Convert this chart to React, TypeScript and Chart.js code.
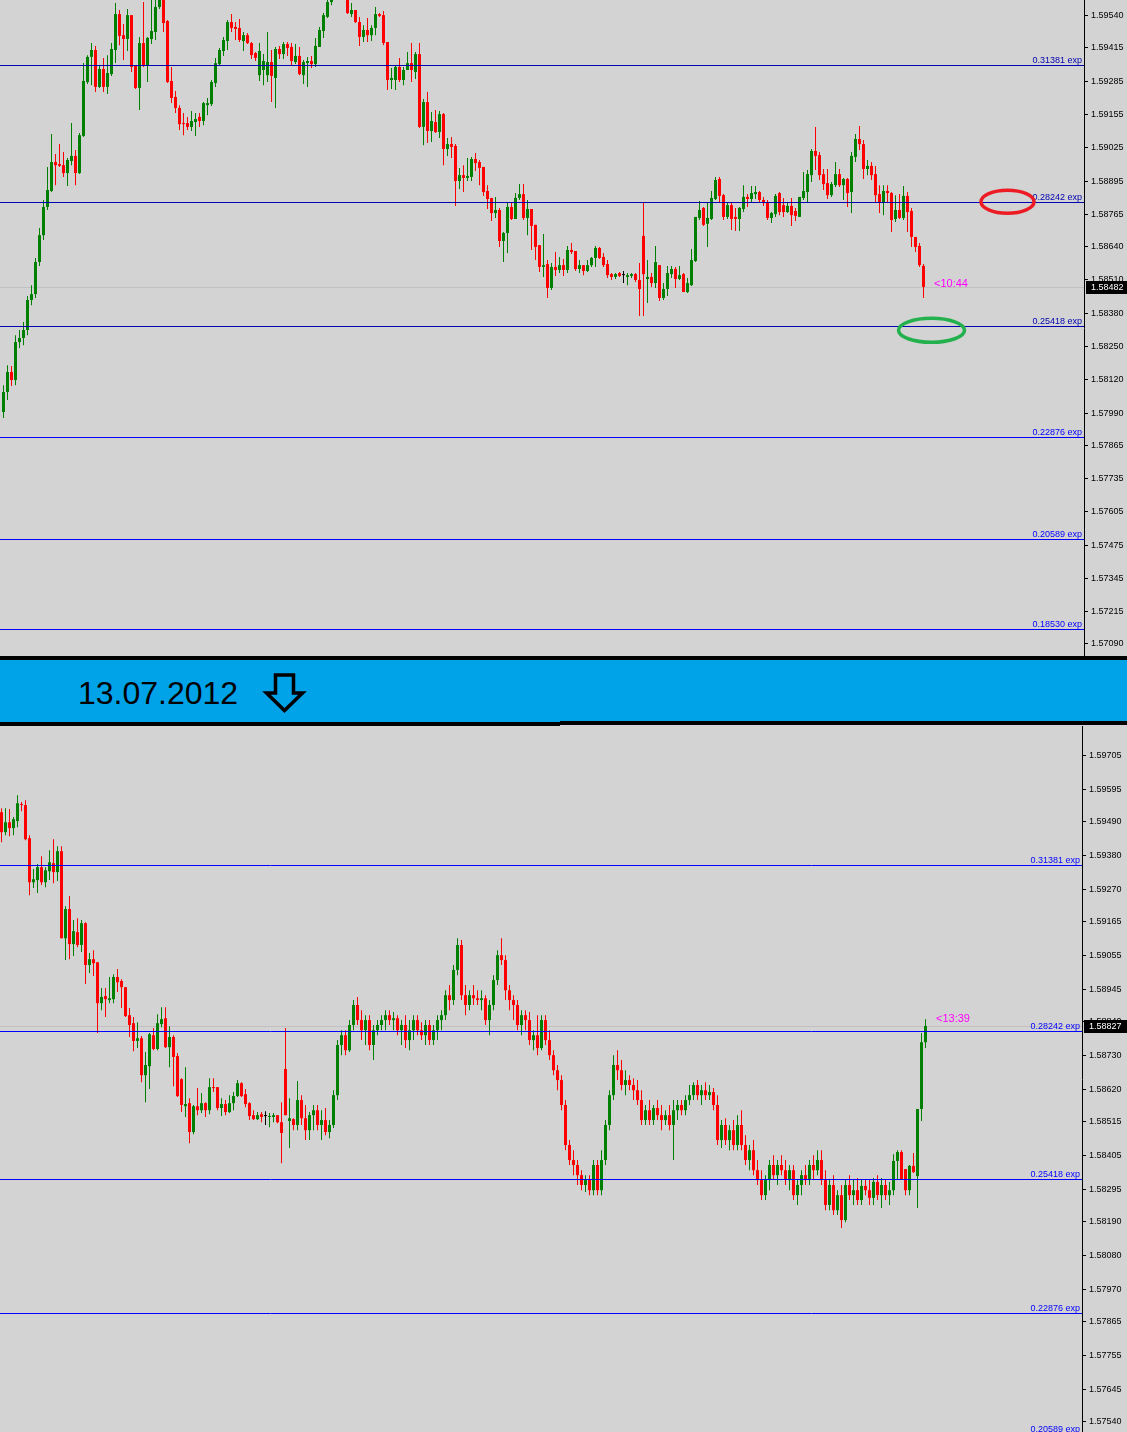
import React, { useEffect, useRef } from "react";
import { Chart, registerables } from "chart.js";

Chart.register(...registerables);

// ---------------- DATA (prices) ----------------
// Upper chart (before 13.07.2012)
const topOpen = [1.57994,1.58072,1.58150,1.58119,1.58267,1.58283,1.58314,1.58431,1.58454,1.58579,1.58684,1.58794,1.58856,1.58969,1.58961,1.58957,1.58926,1.58973,1.58993,1.58926,1.59071,1.59281,1.59379,1.59406,1.59262,1.59332,1.59262,1.59312,1.59406,1.59546,1.59464,1.59449,1.59542,1.59347,1.59258,1.59433,1.59344,1.59449,1.59476,1.59574,1.59613,1.59519,1.59285,1.59223,1.59180,1.59121,1.59121,1.59106,1.59125,1.59145,1.59129,1.59191,1.59195,1.59277,1.59351,1.59402,1.59441,1.59515,1.59496,1.59492,1.59441,1.59464,1.59433,1.59394,1.59308,1.59328,1.59308,1.59359,1.59297,1.59410,1.59390,1.59429,1.59418,1.59359,1.59383,1.59308,1.59355,1.59363,1.59351,1.59418,1.59480,1.59535,1.59593,1.59640,1.59671,1.59648,1.59617,1.59546,1.59562,1.59515,1.59457,1.59484,1.59464,1.59492,1.59546,1.59542,1.59437,1.59289,1.59289,1.59340,1.59289,1.59328,1.59355,1.59320,1.59390,1.59106,1.59203,1.59090,1.59125,1.59086,1.59156,1.59020,1.59039,1.59032,1.58895,1.58918,1.58907,1.58911,1.58981,1.58969,1.58950,1.58856,1.58829,1.58770,1.58782,1.58661,1.58692,1.58794,1.58747,1.58829,1.58844,1.58751,1.58786,1.58724,1.58645,1.58560,1.58571,1.58478,1.58560,1.58548,1.58567,1.58548,1.58626,1.58622,1.58552,1.58567,1.58544,1.58567,1.58595,1.58634,1.58599,1.58571,1.58532,1.58521,1.58536,1.58528,1.58521,1.58525,1.58532,1.58509,1.58681,1.58513,1.58521,1.58497,1.58567,1.58439,1.58474,1.58532,1.58552,1.58513,1.58532,1.58462,1.58489,1.58583,1.58751,1.58790,1.58728,1.58747,1.58825,1.58903,1.58840,1.58755,1.58801,1.58755,1.58747,1.58786,1.58833,1.58825,1.58844,1.58852,1.58821,1.58813,1.58751,1.58766,1.58848,1.58801,1.58774,1.58798,1.58778,1.58755,1.58829,1.58852,1.58918,1.59012,1.58996,1.58922,1.58887,1.58840,1.58879,1.58922,1.58879,1.58903,1.58852,1.58989,1.59059,1.59039,1.58942,1.58954,1.58922,1.58844,1.58813,1.58856,1.58848,1.58747,1.58782,1.58751,1.58837,1.58778,1.58677,1.58642,1.58564];
const topHigh = [1.58099,1.58177,1.58174,1.58294,1.58314,1.58345,1.58447,1.58489,1.58595,1.58712,1.58821,1.58950,1.59078,1.59000,1.59039,1.59008,1.58985,1.59121,1.59016,1.59082,1.59355,1.59386,1.59433,1.59422,1.59347,1.59375,1.59386,1.59433,1.59589,1.59562,1.59507,1.59566,1.59542,1.59347,1.59457,1.59593,1.59457,1.59601,1.59609,1.59632,1.59624,1.59523,1.59340,1.59246,1.59191,1.59160,1.59145,1.59168,1.59160,1.59160,1.59203,1.59219,1.59289,1.59375,1.59414,1.59457,1.59523,1.59546,1.59515,1.59527,1.59476,1.59472,1.59437,1.59398,1.59433,1.59390,1.59476,1.59406,1.59418,1.59422,1.59437,1.59437,1.59433,1.59429,1.59418,1.59367,1.59379,1.59383,1.59453,1.59496,1.59550,1.59613,1.59660,1.59699,1.59699,1.59679,1.59632,1.59589,1.59562,1.59535,1.59503,1.59531,1.59503,1.59574,1.59550,1.59558,1.59437,1.59336,1.59347,1.59375,1.59340,1.59398,1.59433,1.59398,1.59433,1.59215,1.59242,1.59164,1.59172,1.59168,1.59160,1.59063,1.59067,1.59039,1.58946,1.58957,1.58985,1.58989,1.59004,1.58977,1.58950,1.58879,1.58829,1.58833,1.58790,1.58696,1.58809,1.58813,1.58848,1.58883,1.58883,1.58821,1.58786,1.58724,1.58645,1.58688,1.58587,1.58575,1.58618,1.58599,1.58591,1.58642,1.58653,1.58622,1.58587,1.58567,1.58587,1.58599,1.58642,1.58638,1.58614,1.58587,1.58536,1.58536,1.58540,1.58544,1.58536,1.58536,1.58536,1.58575,1.58813,1.58587,1.58536,1.58642,1.58567,1.58497,1.58564,1.58564,1.58560,1.58564,1.58536,1.58517,1.58630,1.58755,1.58817,1.58794,1.58809,1.58856,1.58911,1.58911,1.58844,1.58809,1.58809,1.58790,1.58794,1.58879,1.58844,1.58876,1.58876,1.58856,1.58833,1.58821,1.58774,1.58844,1.58852,1.58829,1.58809,1.58829,1.58790,1.58833,1.58930,1.58938,1.59020,1.59106,1.59008,1.58942,1.58942,1.58891,1.58969,1.58942,1.58907,1.58907,1.59008,1.59078,1.59110,1.59055,1.58977,1.58969,1.58954,1.58879,1.58879,1.58879,1.58852,1.58840,1.58844,1.58876,1.58852,1.58790,1.58677,1.58653,1.58571];
const topLow = [1.57971,1.58041,1.58096,1.58099,1.58244,1.58255,1.58294,1.58411,1.58439,1.58564,1.58665,1.58782,1.58852,1.58879,1.58950,1.58911,1.58876,1.58957,1.58879,1.58922,1.59067,1.59273,1.59269,1.59242,1.59258,1.59242,1.59234,1.59305,1.59355,1.59425,1.59367,1.59402,1.59320,1.59254,1.59172,1.59340,1.59281,1.59429,1.59445,1.59566,1.59476,1.59277,1.59199,1.59160,1.59094,1.59074,1.59094,1.59090,1.59071,1.59106,1.59113,1.59152,1.59188,1.59262,1.59347,1.59383,1.59406,1.59476,1.59445,1.59437,1.59402,1.59429,1.59371,1.59363,1.59285,1.59269,1.59281,1.59203,1.59180,1.59371,1.59371,1.59383,1.59347,1.59351,1.59308,1.59273,1.59262,1.59336,1.59340,1.59418,1.59453,1.59531,1.59581,1.59621,1.59621,1.59601,1.59546,1.59535,1.59511,1.59422,1.59437,1.59437,1.59441,1.59464,1.59535,1.59425,1.59250,1.59254,1.59250,1.59281,1.59269,1.59328,1.59281,1.59293,1.59102,1.59035,1.59043,1.59047,1.59082,1.59063,1.58957,1.58993,1.58985,1.58798,1.58864,1.58852,1.58895,1.58895,1.58934,1.58879,1.58837,1.58786,1.58739,1.58751,1.58638,1.58579,1.58614,1.58743,1.58747,1.58821,1.58743,1.58684,1.58626,1.58587,1.58540,1.58521,1.58439,1.58470,1.58525,1.58536,1.58525,1.58536,1.58610,1.58544,1.58536,1.58528,1.58540,1.58560,1.58560,1.58591,1.58560,1.58517,1.58509,1.58513,1.58521,1.58497,1.58489,1.58517,1.58501,1.58369,1.58369,1.58419,1.58482,1.58478,1.58427,1.58431,1.58447,1.58517,1.58478,1.58509,1.58462,1.58458,1.58486,1.58579,1.58743,1.58720,1.58638,1.58743,1.58821,1.58813,1.58743,1.58747,1.58704,1.58700,1.58700,1.58774,1.58794,1.58809,1.58825,1.58813,1.58798,1.58743,1.58731,1.58755,1.58762,1.58755,1.58770,1.58720,1.58739,1.58755,1.58821,1.58813,1.58891,1.58938,1.58899,1.58860,1.58825,1.58833,1.58872,1.58872,1.58821,1.58794,1.58770,1.58969,1.59016,1.58903,1.58918,1.58899,1.58813,1.58770,1.58762,1.58809,1.58696,1.58735,1.58747,1.58743,1.58696,1.58638,1.58618,1.58560,1.58439];
const topClose = [1.58072,1.58150,1.58119,1.58267,1.58283,1.58314,1.58431,1.58454,1.58579,1.58684,1.58794,1.58860,1.58969,1.58957,1.58954,1.58926,1.58977,1.58993,1.58926,1.59074,1.59285,1.59379,1.59406,1.59262,1.59332,1.59262,1.59316,1.59410,1.59546,1.59461,1.59449,1.59542,1.59340,1.59258,1.59433,1.59344,1.59453,1.59480,1.59574,1.59613,1.59511,1.59281,1.59219,1.59180,1.59117,1.59117,1.59106,1.59129,1.59137,1.59129,1.59199,1.59199,1.59281,1.59355,1.59406,1.59445,1.59515,1.59492,1.59488,1.59445,1.59464,1.59433,1.59386,1.59375,1.59402,1.59363,1.59359,1.59305,1.59410,1.59390,1.59429,1.59414,1.59363,1.59383,1.59312,1.59359,1.59363,1.59351,1.59422,1.59484,1.59542,1.59593,1.59640,1.59671,1.59648,1.59617,1.59550,1.59562,1.59515,1.59457,1.59484,1.59464,1.59492,1.59546,1.59539,1.59433,1.59289,1.59297,1.59340,1.59289,1.59328,1.59355,1.59328,1.59390,1.59106,1.59203,1.59090,1.59129,1.59086,1.59156,1.59020,1.59039,1.59028,1.58895,1.58918,1.58907,1.58915,1.58981,1.58965,1.58946,1.58852,1.58825,1.58770,1.58782,1.58661,1.58692,1.58794,1.58747,1.58829,1.58844,1.58751,1.58786,1.58720,1.58638,1.58560,1.58567,1.58478,1.58560,1.58548,1.58567,1.58548,1.58626,1.58618,1.58552,1.58567,1.58544,1.58567,1.58595,1.58634,1.58595,1.58567,1.58528,1.58521,1.58532,1.58525,1.58528,1.58528,1.58532,1.58509,1.58474,1.58532,1.58521,1.58497,1.58579,1.58439,1.58474,1.58536,1.58552,1.58513,1.58528,1.58462,1.58497,1.58587,1.58755,1.58782,1.58724,1.58751,1.58829,1.58899,1.58837,1.58755,1.58801,1.58747,1.58747,1.58790,1.58833,1.58825,1.58848,1.58852,1.58821,1.58809,1.58751,1.58770,1.58837,1.58774,1.58774,1.58798,1.58762,1.58759,1.58833,1.58856,1.58922,1.59012,1.58993,1.58918,1.58883,1.58840,1.58883,1.58922,1.58879,1.58903,1.58848,1.58993,1.59059,1.59039,1.58942,1.58954,1.58918,1.58840,1.58813,1.58856,1.58848,1.58743,1.58782,1.58751,1.58837,1.58774,1.58677,1.58638,1.58567,1.58482];

// Lower chart (13.07.2012)
const bottomOpen = [1.59522,1.59457,1.59489,1.59470,1.59493,1.59548,1.59545,1.59437,1.59294,1.59301,1.59343,1.59294,1.59330,1.59356,1.59327,1.59395,1.59112,1.59207,1.59093,1.59132,1.59090,1.59161,1.59025,1.59044,1.59034,1.58901,1.58924,1.58911,1.58914,1.58986,1.58973,1.58953,1.58862,1.58836,1.58778,1.58787,1.58667,1.58696,1.58797,1.58752,1.58833,1.58852,1.58758,1.58791,1.58729,1.58654,1.58566,1.58576,1.58482,1.58566,1.58553,1.58576,1.58553,1.58628,1.58628,1.58560,1.58573,1.58547,1.58576,1.58599,1.58641,1.58605,1.58576,1.58537,1.58524,1.58540,1.58534,1.58531,1.58531,1.58537,1.58514,1.58687,1.58518,1.58524,1.58505,1.58586,1.58527,1.58488,1.58537,1.58553,1.58505,1.58521,1.58482,1.58505,1.58602,1.58765,1.58797,1.58748,1.58830,1.58895,1.58846,1.58813,1.58846,1.58765,1.58813,1.58830,1.58846,1.58862,1.58846,1.58852,1.58813,1.58830,1.58781,1.58813,1.58846,1.58813,1.58797,1.58830,1.58781,1.58813,1.58846,1.58862,1.58927,1.58911,1.59009,1.59090,1.58927,1.58895,1.58927,1.58917,1.58911,1.58917,1.58846,1.58895,1.58976,1.59057,1.59041,1.58943,1.58911,1.58895,1.58830,1.58862,1.58846,1.58781,1.58797,1.58755,1.58846,1.58781,1.58732,1.58683,1.58651,1.58570,1.58440,1.58391,1.58375,1.58342,1.58310,1.58326,1.58293,1.58375,1.58293,1.58391,1.58505,1.58602,1.58700,1.58683,1.58635,1.58651,1.58635,1.58618,1.58586,1.58521,1.58553,1.58521,1.58560,1.58537,1.58521,1.58537,1.58505,1.58553,1.58570,1.58553,1.58586,1.58602,1.58635,1.58602,1.58618,1.58602,1.58612,1.58570,1.58456,1.58505,1.58456,1.58488,1.58440,1.58505,1.58440,1.58391,1.58423,1.58358,1.58326,1.58277,1.58326,1.58375,1.58342,1.58375,1.58358,1.58326,1.58358,1.58277,1.58310,1.58342,1.58326,1.58375,1.58358,1.58391,1.58326,1.58245,1.58310,1.58228,1.58277,1.58196,1.58310,1.58277,1.58293,1.58261,1.58307,1.58293,1.58268,1.58320,1.58277,1.58310,1.58277,1.58293,1.58388,1.58417,1.58362,1.58293,1.58372,1.58339,1.58557,1.58774];
const bottomHigh = [1.59535,1.59535,1.59532,1.59506,1.59577,1.59555,1.59561,1.59447,1.59337,1.59353,1.59379,1.59343,1.59398,1.59434,1.59411,1.59411,1.59216,1.59249,1.59171,1.59177,1.59171,1.59164,1.59064,1.59073,1.59034,1.58950,1.58950,1.58986,1.58995,1.59012,1.58979,1.58953,1.58885,1.58856,1.58839,1.58794,1.58742,1.58804,1.58820,1.58865,1.58888,1.58888,1.58826,1.58797,1.58739,1.58657,1.58693,1.58592,1.58570,1.58625,1.58609,1.58579,1.58657,1.58657,1.58628,1.58592,1.58586,1.58602,1.58612,1.58651,1.58644,1.58622,1.58579,1.58553,1.58547,1.58547,1.58550,1.58544,1.58544,1.58537,1.58579,1.58820,1.58592,1.58527,1.58648,1.58602,1.58570,1.58547,1.58570,1.58570,1.58553,1.58560,1.58521,1.58618,1.58781,1.58813,1.58813,1.58846,1.58911,1.58921,1.58878,1.58862,1.58862,1.58830,1.58846,1.58862,1.58878,1.58878,1.58872,1.58862,1.58846,1.58862,1.58846,1.58862,1.58862,1.58839,1.58846,1.58846,1.58830,1.58862,1.58878,1.58943,1.58960,1.59025,1.59112,1.59106,1.58960,1.58943,1.58960,1.58943,1.58943,1.58927,1.58911,1.58992,1.59073,1.59112,1.59057,1.58960,1.58927,1.58911,1.58878,1.58878,1.58872,1.58813,1.58862,1.58862,1.58862,1.58813,1.58748,1.58700,1.58667,1.58586,1.58456,1.58423,1.58391,1.58358,1.58342,1.58342,1.58391,1.58391,1.58423,1.58521,1.58618,1.58732,1.58748,1.58716,1.58683,1.58667,1.58657,1.58651,1.58618,1.58570,1.58586,1.58570,1.58586,1.58570,1.58553,1.58570,1.58586,1.58586,1.58586,1.58602,1.58635,1.58644,1.58651,1.58635,1.58644,1.58635,1.58625,1.58602,1.58521,1.58527,1.58505,1.58521,1.58537,1.58553,1.58472,1.58440,1.58456,1.58391,1.58358,1.58342,1.58391,1.58407,1.58391,1.58407,1.58391,1.58375,1.58375,1.58326,1.58358,1.58375,1.58391,1.58407,1.58423,1.58423,1.58358,1.58326,1.58342,1.58293,1.58310,1.58326,1.58342,1.58326,1.58333,1.58326,1.58326,1.58326,1.58333,1.58342,1.58333,1.58326,1.58320,1.58410,1.58423,1.58423,1.58362,1.58375,1.58414,1.58557,1.58804,1.58849];
const bottomLow = [1.59424,1.59447,1.59444,1.59447,1.59473,1.59525,1.59431,1.59252,1.59275,1.59259,1.59285,1.59278,1.59301,1.59291,1.59298,1.59112,1.59041,1.59044,1.59054,1.59083,1.59067,1.58963,1.58999,1.58989,1.58804,1.58878,1.58856,1.58901,1.58901,1.58937,1.58885,1.58856,1.58791,1.58745,1.58755,1.58644,1.58579,1.58622,1.58748,1.58748,1.58823,1.58755,1.58693,1.58631,1.58596,1.58547,1.58531,1.58446,1.58475,1.58537,1.58544,1.58531,1.58540,1.58612,1.58553,1.58534,1.58537,1.58544,1.58553,1.58596,1.58596,1.58563,1.58521,1.58521,1.58521,1.58514,1.58505,1.58498,1.58514,1.58511,1.58381,1.58537,1.58430,1.58488,1.58488,1.58505,1.58456,1.58456,1.58488,1.58488,1.58456,1.58472,1.58462,1.58495,1.58586,1.58732,1.58732,1.58742,1.58813,1.58830,1.58781,1.58765,1.58748,1.58716,1.58797,1.58813,1.58813,1.58830,1.58813,1.58797,1.58765,1.58755,1.58748,1.58781,1.58797,1.58781,1.58765,1.58765,1.58765,1.58781,1.58813,1.58846,1.58878,1.58895,1.58992,1.58911,1.58862,1.58878,1.58895,1.58895,1.58878,1.58830,1.58797,1.58878,1.58960,1.59025,1.58911,1.58878,1.58846,1.58813,1.58797,1.58813,1.58765,1.58748,1.58732,1.58748,1.58765,1.58716,1.58667,1.58618,1.58553,1.58423,1.58375,1.58342,1.58310,1.58293,1.58287,1.58277,1.58277,1.58277,1.58277,1.58375,1.58488,1.58586,1.58651,1.58618,1.58602,1.58618,1.58586,1.58570,1.58505,1.58505,1.58505,1.58505,1.58521,1.58488,1.58505,1.58488,1.58391,1.58521,1.58537,1.58537,1.58570,1.58586,1.58586,1.58570,1.58586,1.58586,1.58553,1.58440,1.58430,1.58440,1.58423,1.58423,1.58423,1.58423,1.58375,1.58358,1.58342,1.58310,1.58261,1.58261,1.58293,1.58326,1.58310,1.58342,1.58310,1.58293,1.58261,1.58245,1.58277,1.58310,1.58310,1.58326,1.58342,1.58310,1.58228,1.58228,1.58212,1.58212,1.58170,1.58189,1.58261,1.58245,1.58245,1.58245,1.58277,1.58245,1.58245,1.58261,1.58235,1.58261,1.58245,1.58277,1.58326,1.58326,1.58277,1.58277,1.58349,1.58235,1.58518,1.58755];
const bottomClose = [1.59457,1.59489,1.59470,1.59499,1.59551,1.59545,1.59434,1.59294,1.59304,1.59343,1.59294,1.59333,1.59359,1.59327,1.59395,1.59112,1.59207,1.59093,1.59135,1.59090,1.59161,1.59025,1.59044,1.59031,1.58901,1.58921,1.58914,1.58917,1.58986,1.58969,1.58953,1.58859,1.58830,1.58778,1.58787,1.58667,1.58700,1.58800,1.58752,1.58836,1.58849,1.58758,1.58791,1.58726,1.58599,1.58570,1.58573,1.58482,1.58566,1.58553,1.58576,1.58553,1.58628,1.58625,1.58560,1.58573,1.58547,1.58576,1.58599,1.58641,1.58599,1.58573,1.58534,1.58524,1.58537,1.58531,1.58534,1.58534,1.58537,1.58514,1.58479,1.58537,1.58527,1.58505,1.58586,1.58527,1.58488,1.58537,1.58553,1.58505,1.58521,1.58482,1.58505,1.58602,1.58765,1.58797,1.58748,1.58830,1.58895,1.58846,1.58813,1.58846,1.58765,1.58813,1.58830,1.58846,1.58862,1.58846,1.58852,1.58813,1.58830,1.58781,1.58813,1.58846,1.58813,1.58797,1.58830,1.58781,1.58813,1.58846,1.58862,1.58927,1.58911,1.59009,1.59090,1.58927,1.58895,1.58927,1.58917,1.58911,1.58917,1.58846,1.58895,1.58976,1.59057,1.59041,1.58943,1.58911,1.58895,1.58830,1.58862,1.58846,1.58781,1.58797,1.58755,1.58846,1.58781,1.58732,1.58683,1.58651,1.58570,1.58440,1.58391,1.58375,1.58342,1.58310,1.58326,1.58293,1.58375,1.58293,1.58391,1.58505,1.58602,1.58700,1.58683,1.58635,1.58651,1.58635,1.58618,1.58586,1.58521,1.58553,1.58521,1.58560,1.58537,1.58521,1.58537,1.58505,1.58553,1.58570,1.58553,1.58586,1.58602,1.58635,1.58602,1.58618,1.58602,1.58612,1.58570,1.58456,1.58505,1.58456,1.58488,1.58440,1.58505,1.58440,1.58391,1.58423,1.58358,1.58326,1.58277,1.58326,1.58375,1.58342,1.58375,1.58358,1.58326,1.58358,1.58277,1.58310,1.58342,1.58326,1.58375,1.58358,1.58391,1.58326,1.58245,1.58310,1.58228,1.58277,1.58196,1.58310,1.58277,1.58293,1.58261,1.58307,1.58293,1.58268,1.58320,1.58277,1.58310,1.58277,1.58293,1.58388,1.58417,1.58329,1.58293,1.58372,1.58352,1.58557,1.58774,1.58827];

// Price-axis tick labels
const topTicks = [1.59540,1.59415,1.59285,1.59155,1.59025,1.58895,1.58765,1.58640,1.58510,1.58380,1.58250,1.58120,1.57990,1.57865,1.57735,1.57605,1.57475,1.57345,1.57215,1.57090];
const bottomTicks = [1.59705,1.59595,1.59490,1.59380,1.59270,1.59165,1.59055,1.58945,1.58840,1.58730,1.58620,1.58515,1.58405,1.58295,1.58190,1.58080,1.57970,1.57865,1.57755,1.57645,1.57540];

// Fibonacci expansion levels
const levelNames = ["0.31381 exp","0.28242 exp","0.25418 exp","0.22876 exp","0.20589 exp","0.18530 exp"];
const levelPrices = [1.59349,1.58812,1.58329,1.57895,1.57500,1.57148];

// Time labels and banner text
const topTimeText = "<10:44";
const topTimePrice = 1.58482;
const bottomTimeText = "<13:39";
const bottomTimePrice = 1.58840;
const bannerDate = "13.07.2012";

// Hand-drawn ellipse marks on the upper chart (candle index, price)
const markIndex = [251, 232];
const markPrice = [1.58814, 1.58313];

// ---------------- STYLE ----------------
const W = 1127;
const STEP = 4;
const UP = "#008000";
const DOWN = "#FF0000";
const DOJI = "#000000";
const BG = "#D3D3D3";
const FONT = "'Liberation Sans', Arial, sans-serif";

type Panel = {
  open: number[]; high: number[]; low: number[]; close: number[];
  ticks: number[]; yMin: number; yMax: number;
  firstCenter: number; height: number; axisWidth: number;
  levelColors: string[]; timeText: string; timePrice: number;
  ellipses: { index: number; price: number; rx: number; ry: number; color: string }[];
};

const topPanel: Panel = {
  open: topOpen, high: topHigh, low: topLow, close: topClose,
  ticks: topTicks, yMin: 1.570426, yMax: 1.59601,
  firstCenter: 3.5, height: 656, axisWidth: 43,
  levelColors: ["#0000B0", "#0000B0", "#0000B0", "#0000FF", "#0000FF", "#0000FF"],
  timeText: topTimeText, timePrice: topTimePrice,
  ellipses: [
    { index: markIndex[0], price: markPrice[0], rx: 26.5, ry: 11.5, color: "#ED1C24" },
    { index: markIndex[1], price: markPrice[1], rx: 33, ry: 12, color: "#22B14C" },
  ],
};

const bottomPanel: Panel = {
  open: bottomOpen, high: bottomHigh, low: bottomLow, close: bottomClose,
  ticks: bottomTicks, yMin: 1.57507, yMax: 1.59802,
  firstCenter: 1.5, height: 706, axisWidth: 45,
  levelColors: ["#0000FF", "#0000FF", "#0000FF", "#0000FF", "#0000FF", "#0000FF"],
  timeText: bottomTimeText, timePrice: bottomTimePrice,
  ellipses: [],
};

function CandleChart({ panel }: { panel: Panel }) {
  const ref = useRef<HTMLCanvasElement>(null);
  useEffect(() => {
    const canvas = ref.current;
    if (!canvas) return;
    const p = panel;
    const n = p.close.length;
    const colors = p.close.map((c, i) => (c > p.open[i] ? UP : c < p.open[i] ? DOWN : DOJI));
    const plotRight = W - p.axisWidth;
    const xMin = -p.firstCenter / STEP;
    const xMax = xMin + plotRight / STEP;
    const last = p.close[n - 1];

    const overlay = {
      id: "overlay",
      beforeDatasetsDraw(chart: any) {
        const { ctx, chartArea, scales } = chart;
        const y = Math.round(scales.y.getPixelForValue(last)) + 0.5;
        ctx.save();
        ctx.strokeStyle = "#C0C0C0";
        ctx.lineWidth = 1;
        ctx.beginPath();
        ctx.moveTo(chartArea.left, y);
        ctx.lineTo(chartArea.right, y);
        ctx.stroke();
        ctx.restore();
      },
      afterDatasetsDraw(chart: any) {
        const { ctx, chartArea, scales } = chart;
        ctx.save();
        ctx.font = `9px ${FONT}`;
        ctx.textAlign = "right";
        ctx.textBaseline = "alphabetic";
        levelPrices.forEach((lp, k) => {
          const yy = scales.y.getPixelForValue(lp);
          const y = Math.round(yy) + 0.5;
          ctx.strokeStyle = p.levelColors[k];
          ctx.fillStyle = p.levelColors[k];
          ctx.lineWidth = 1;
          ctx.beginPath();
          ctx.moveTo(chartArea.left, y);
          ctx.lineTo(chartArea.right, y);
          ctx.stroke();
          ctx.fillText(levelNames[k], chartArea.right - 2, Math.round(yy) - 2);
        });
        // time label
        ctx.font = `11px ${FONT}`;
        ctx.textAlign = "left";
        ctx.fillStyle = "#FF00FF";
        ctx.fillText(p.timeText, scales.x.getPixelForValue(n - 1) + 10.5, scales.y.getPixelForValue(p.timePrice));
        // ellipses
        p.ellipses.forEach((e) => {
          ctx.strokeStyle = e.color;
          ctx.lineWidth = 3.5;
          ctx.beginPath();
          ctx.ellipse(scales.x.getPixelForValue(e.index), scales.y.getPixelForValue(e.price), e.rx, e.ry, 0, 0, Math.PI * 2);
          ctx.stroke();
        });
        ctx.restore();
      },
      afterDraw(chart: any) {
        const { ctx, chartArea, scales } = chart;
        const y = Math.round(scales.y.getPixelForValue(last));
        ctx.save();
        ctx.fillStyle = "#000";
        ctx.fillRect(chartArea.right + 2, y - 6, p.axisWidth - 2, 13);
        ctx.fillStyle = "#FFF";
        ctx.font = `9px ${FONT}`;
        ctx.textAlign = "left";
        ctx.textBaseline = "middle";
        ctx.fillText(last.toFixed(5), chartArea.right + 7, y + 0.5);
        ctx.restore();
      },
    };

    const chart = new Chart(canvas, {
      type: "bar",
      data: {
        datasets: [
          {
            data: p.low.map((l, i) => ({ x: i, y: [l, p.high[i]] })),
            backgroundColor: colors,
            barThickness: 1,
            grouped: false,
            borderWidth: 0,
            inflateAmount: 0,
            minBarLength: 1,
            order: 2,
          } as any,
          {
            data: p.open.map((o, i) => ({ x: i, y: [o, p.close[i]] })),
            backgroundColor: colors,
            barThickness: 3,
            grouped: false,
            borderWidth: 0,
            inflateAmount: 0,
            minBarLength: 1,
            order: 1,
          } as any,
        ],
      },
      options: {
        responsive: false,
        animation: false,
        devicePixelRatio: 1,
        events: [],
        layout: { padding: 0 },
        plugins: { legend: { display: false }, tooltip: { enabled: false } },
        scales: {
          x: {
            type: "linear",
            min: xMin,
            max: xMax,
            display: false,
            offset: false,
            ticks: { display: false },
            afterBuildTicks: (s: any) => { s.ticks = []; },
          },
          y: {
            type: "linear",
            position: "right",
            min: p.yMin,
            max: p.yMax,
            stacked: false,
            afterBuildTicks: (s: any) => { s.ticks = p.ticks.map((v) => ({ value: v })); },
            afterFit: (s: any) => { s.width = p.axisWidth; s.paddingTop = 0; s.paddingBottom = 0; },
            ticks: {
              autoSkip: false,
              padding: 3,
              color: "#000",
              font: { family: FONT, size: 9 },
              callback: (v: any) => Number(v).toFixed(5),
            },
            grid: { display: true, drawOnChartArea: false, drawTicks: true, tickLength: 4, tickColor: "#000", color: "#000", lineWidth: 1 },
            border: { display: true, color: "#000", width: 1 },
          },
        },
      } as any,
      plugins: [overlay],
    });
    return () => chart.destroy();
  }, [panel]);
  return <canvas ref={ref} width={W} height={panel.height} style={{ display: "block" }} />;
}

function Banner() {
  return (
    <svg width={W} height={70} style={{ display: "block", background: BG }}>
      <rect x={0} y={0} width={W} height={66} fill="#00A2E8" />
      <rect x={0} y={0} width={W} height={4} fill="#000" />
      <rect x={0} y={66} width={560} height={4} fill="#000" />
      <rect x={560} y={65} width={W - 560} height={4} fill="#000" />
      <text x={78} y={48} fontFamily="Liberation Sans, Arial, sans-serif" fontSize={32} fill="#000">
        {bannerDate}
      </text>
      <polygon
        points="275.5,19 293.5,19 293.5,37 302.5,37 284.5,54.5 266.5,37 275.5,37"
        fill="none"
        stroke="#000"
        strokeWidth={3.5}
        strokeLinejoin="miter"
      />
    </svg>
  );
}

export default function App() {
  useEffect(() => {
    document.body.style.margin = "0";
  }, []);
  return (
    <div style={{ width: W, background: BG }}>
      <CandleChart panel={topPanel} />
      <Banner />
      <CandleChart panel={bottomPanel} />
    </div>
  );
}
